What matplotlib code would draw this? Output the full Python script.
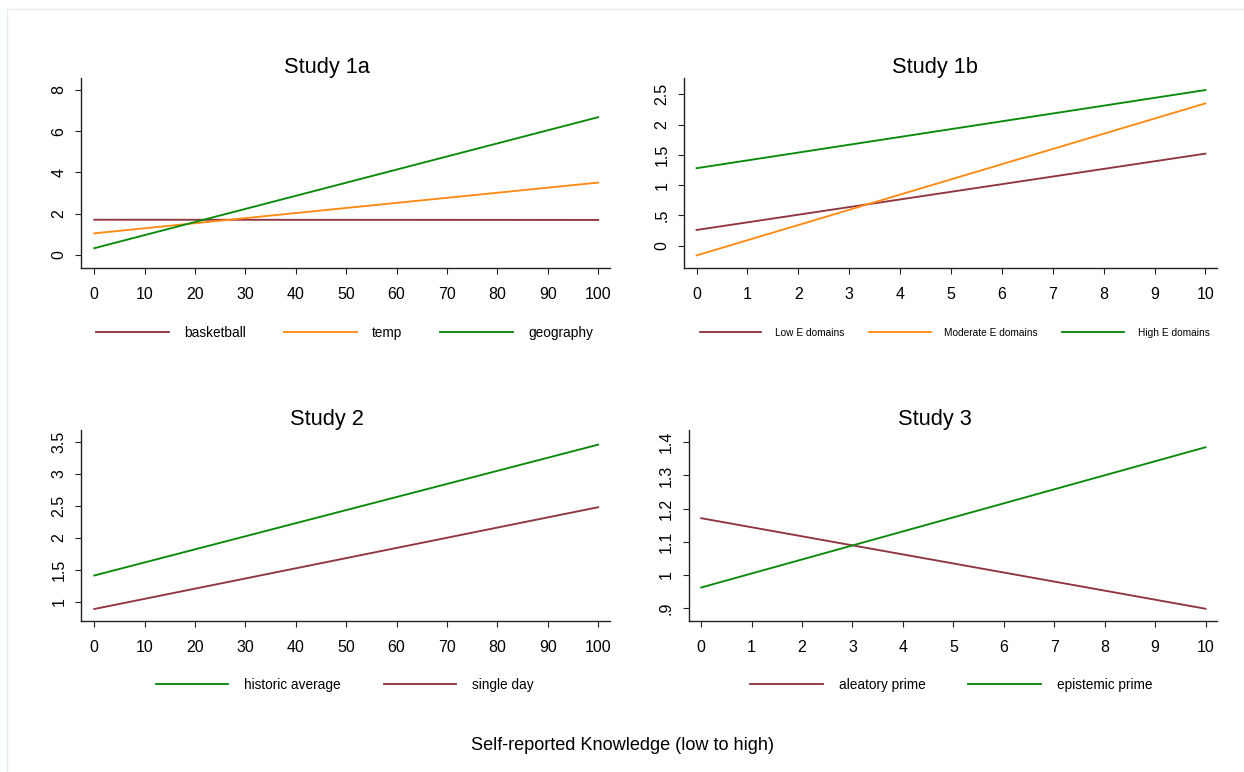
import matplotlib
matplotlib.use("Agg")
import matplotlib.pyplot as plt
from matplotlib.patches import Rectangle

plt.rcParams["font.family"] = ["Liberation Sans", "DejaVu Sans"]

MAROON = "#8F3540"
ORANGE = "#FF8A14"
GREEN = "#0A8A0A"

# ---- data ----
x_pct = [0, 100]
x_ten = [0, 10]

s1a_labels = ["basketball", "temp", "geography"]
s1a_basketball = [1.71, 1.70]
s1a_temp = [1.05, 3.51]
s1a_geography = [0.33, 6.68]
s1a_yticks = [0, 2, 4, 6, 8]
s1a_yticklabels = ["0", "2", "4", "6", "8"]
s1a_xticks = [0, 10, 20, 30, 40, 50, 60, 70, 80, 90, 100]

s1b_labels = ["Low E domains", "Moderate E domains", "High E domains"]
s1b_low = [0.26, 1.52]
s1b_mod = [-0.16, 2.35]
s1b_high = [1.28, 2.57]
s1b_yticks = [0, 0.5, 1, 1.5, 2, 2.5]
s1b_yticklabels = ["0", ".5", "1", "1.5", "2", "2.5"]
s1b_xticks = [0, 1, 2, 3, 4, 5, 6, 7, 8, 9, 10]

s2_labels = ["historic average", "single day"]
s2_historic = [1.41, 3.46]
s2_single = [0.885, 2.48]
s2_yticks = [1, 1.5, 2, 2.5, 3, 3.5]
s2_yticklabels = ["1", "1.5", "2", "2.5", "3", "3.5"]

s3_labels = ["aleatory prime", "epistemic prime"]
s3_aleatory = [1.171, 0.898]
s3_epistemic = [0.962, 1.385]
s3_yticks = [0.9, 1.0, 1.1, 1.2, 1.3, 1.4]
s3_yticklabels = [".9", "1", "1.1", "1.2", "1.3", "1.4"]

W, H = 1244, 772
fig = plt.figure(figsize=(W / 100, H / 100), dpi=100)
fig.patches.append(Rectangle((7.5 / W, -0.5), 2.0, 1.5 - 8.5 / H, transform=fig.transFigure,
                             fill=False, edgecolor="#E4ECEE", linewidth=1.0))

def px_axes(l, t, r, b):
    return fig.add_axes([l / W, 1 - b / H, (r - l) / W, (b - t) / H])

LW = 1.35
TICK_FS = 11.5

def style(ax, xlim, ylim, xticks, yticks, yticklabels, title, tx):
    ax.set_xlim(*xlim)
    ax.set_ylim(*ylim)
    for s in ("top", "right"):
        ax.spines[s].set_visible(False)
    for s in ("left", "bottom"):
        ax.spines[s].set_linewidth(1.0)
        ax.spines[s].set_color("#222222")
    ax.set_xticks(xticks)
    ax.set_yticks(yticks)
    ax.set_yticklabels(yticklabels, rotation=90, va="center")
    ax.tick_params(axis="both", direction="out", length=4.3, width=0.8, color="#222222",
                   labelsize=TICK_FS)
    ax.tick_params(axis="x", pad=9.5)
    ax.tick_params(axis="y", pad=6.3)
    ax.set_title(title, fontsize=15.7, x=tx, pad=2.7)

def legend(ax, fs, hl, tp, cs, bx, by):
    leg = ax.legend(loc="center", bbox_to_anchor=(bx, by), ncol=3, frameon=False,
                    fontsize=fs, handlelength=hl, handletextpad=tp, columnspacing=cs,
                    borderpad=0, borderaxespad=0)
    return leg

# Study 1a
ax1 = px_axes(81.3, 78, 610.2, 268)
ax1.plot(x_pct, s1a_basketball, color=MAROON, lw=LW, label=s1a_labels[0])
ax1.plot(x_pct, s1a_temp, color=ORANGE, lw=LW, label=s1a_labels[1])
ax1.plot(x_pct, s1a_geography, color=GREEN, lw=LW, label=s1a_labels[2])
style(ax1, (-2.58, 102.4), (-0.63, 8.58), s1a_xticks, s1a_yticks, s1a_yticklabels, "Study 1a", 0.4645)
legend(ax1, 9.8, 5.35, 1.1, 2.8, 0.498, -65 / 190)

# Study 1b
ax2 = px_axes(684.0, 78.3, 1217.1, 267.7)
ax2.plot(x_ten, s1b_low, color=MAROON, lw=LW, label=s1b_labels[0])
ax2.plot(x_ten, s1b_mod, color=ORANGE, lw=LW, label=s1b_labels[1])
ax2.plot(x_ten, s1b_high, color=GREEN, lw=LW, label=s1b_labels[2])
style(ax2, (-0.248, 10.23), (-0.363, 2.764), s1b_xticks, s1b_yticks, s1b_yticklabels, "Study 1b", 0.470)
legend(ax2, 7.3, 6.1, 1.35, 2.4, 0.5076, -65 / 189.4)

# Study 2
ax3 = px_axes(81.3, 430, 610.2, 621)
ax3.plot(x_pct, s2_historic, color=GREEN, lw=LW, label=s2_labels[0])
ax3.plot(x_pct, s2_single, color=MAROON, lw=LW, label=s2_labels[1])
style(ax3, (-2.58, 102.4), (0.697, 3.69), s1a_xticks, s2_yticks, s2_yticklabels, "Study 2", 0.4645)
legend(ax3, 9.8, 5.35, 1.15, 3.15, 0.498, -64 / 191)

# Study 3
ax4 = px_axes(688.6, 430, 1217.1, 621)
ax4.plot(x_ten, s3_aleatory, color=MAROON, lw=LW, label=s3_labels[0])
ax4.plot(x_ten, s3_epistemic, color=GREEN, lw=LW, label=s3_labels[1])
style(ax4, (-0.25, 10.23), (0.861, 1.437), s1b_xticks, s3_yticks, s3_yticklabels, "Study 3", 0.4657)
legend(ax4, 9.8, 5.35, 1.15, 3.15, 0.497, -64 / 191)

fig.text(622.5 / W, 1 - 745 / H, "Self-reported Knowledge (low to high)", ha="center", va="center",
         fontsize=13.1)

fig.savefig("out.png", dpi=100, facecolor="white")
